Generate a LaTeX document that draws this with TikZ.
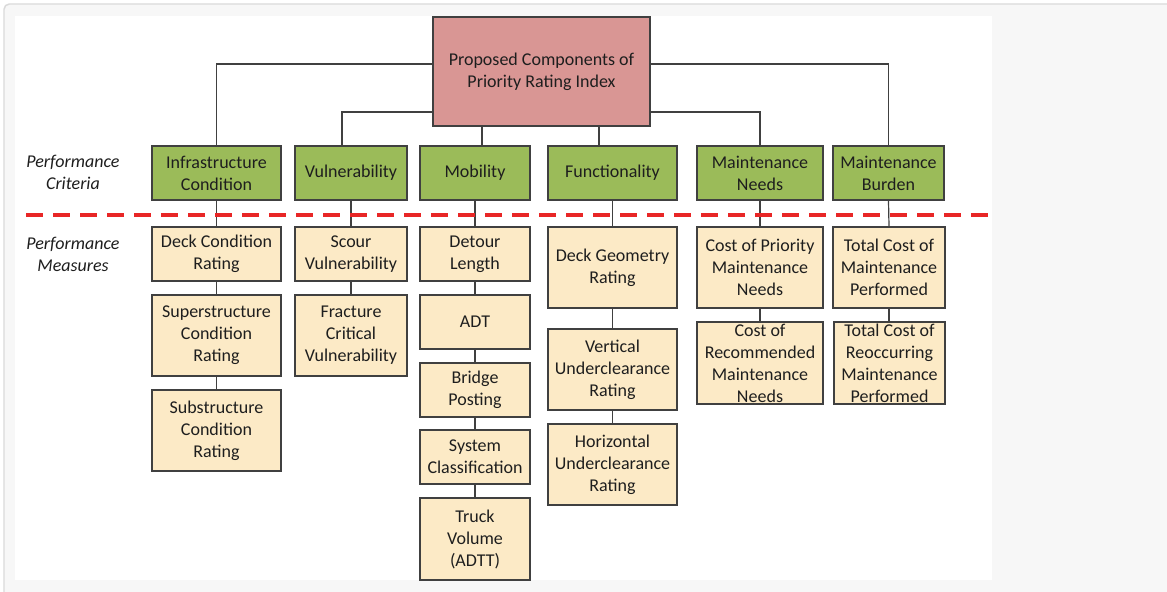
\documentclass[tikz,border=0pt]{standalone}
\usepackage{fontspec}
\setmainfont{Carlito}
\definecolor{pagegray}{HTML}{F7F7F7}
\definecolor{framegray}{HTML}{DADADA}
\definecolor{edgegray}{HTML}{404040}
\definecolor{inkgray}{HTML}{1E1E1E}
\definecolor{rootred}{HTML}{D99694}
\definecolor{critgreen}{HTML}{9BBB59}
\definecolor{meastan}{RGB}{252,234,198}
\definecolor{splitred}{RGB}{232,38,38}

% box placed by its corner pixels: name, style, x1, y1, x2, y2, text
\newcommand\boxnode[7]{%
  \node[#2, minimum width={(#5-#3)*0.75pt}, minimum height={(#6-#4)*0.75pt}]
    (#1) at ({(#3+#5)/2},{(#4+#6)/2}) {#7};}

\begin{document}
\begin{tikzpicture}[x=0.75pt,y=-0.75pt,
  basebox/.style={draw=edgegray, line width=1.1pt, inner sep=0pt, align=center,
    text=inkgray, font=\fontsize{13.5pt}{16.5pt}\selectfont},
  rootbox/.style={basebox, fill=rootred},
  critbox/.style={basebox, fill=critgreen},
  measbox/.style={basebox, fill=meastan},
  link/.style={draw=edgegray, line width=0.9pt},
  rowlabel/.style={align=center, text=inkgray, font=\fontsize{13.5pt}{16.5pt}\selectfont\itshape},
  splitline/.style={draw=splitred, line width=2.3pt, dash pattern=on 12.75pt off 7.5pt}]

% page background, frame and white panel
\useasboundingbox (0,0) rectangle (1167,592);
\fill[white] (0,0) rectangle (1167,592);
\filldraw[fill=pagegray, draw=framegray, line width=1.1pt, rounded corners=4pt]
  (4,4) rectangle (1190,610);
\fill[white] (15,16) rectangle (992,580);

% root
\boxnode{root}{rootbox}{433}{17}{650}{126}{Proposed Components of\\Priority Rating Index}

% performance criteria
\boxnode{infra}{critbox}{152}{146}{281}{200}{Infrastructure\\Condition}
\boxnode{vul}{critbox}{295}{146}{407}{200}{Vulnerability}
\boxnode{mob}{critbox}{420}{146}{530}{200}{Mobility}
\boxnode{func}{critbox}{548}{146}{677}{200}{Functionality}
\boxnode{mneed}{critbox}{697}{146}{823}{200}{Maintenance\\Needs}
\boxnode{mburd}{critbox}{833}{146}{944}{200}{Maintenance\\Burden}

% performance measures
\boxnode{ca}{measbox}{152}{227}{281}{281}{Deck Condition\\Rating}
\boxnode{cb}{measbox}{152}{295}{281}{376}{Superstructure\\Condition\\Rating}
\boxnode{cc}{measbox}{152}{390}{281}{471}{Substructure\\Condition\\Rating}
\boxnode{va}{measbox}{295}{227}{407}{281}{Scour\\Vulnerability}
\boxnode{vb}{measbox}{295}{295}{407}{376}{Fracture\\Critical\\Vulnerability}
\boxnode{ma}{measbox}{420}{227}{530}{281}{Detour\\Length}
\boxnode{mb}{measbox}{420}{295}{530}{349}{ADT}
\boxnode{mc}{measbox}{420}{363}{530}{417}{Bridge\\Posting}
\boxnode{md}{measbox}{420}{430}{530}{484}{System\\Classification}
\boxnode{me}{measbox}{420}{498}{530}{580}{Truck\\Volume\\(ADTT)}
\boxnode{fa}{measbox}{548}{227}{677}{308}{Deck Geometry\\Rating}
\boxnode{fb}{measbox}{548}{329}{677}{410}{Vertical\\Underclearance\\Rating}
\boxnode{fc}{measbox}{548}{424}{677}{505}{Horizontal\\Underclearance\\Rating}
\boxnode{na}{measbox}{697}{227}{823}{308}{Cost of Priority\\Maintenance\\Needs}
\boxnode{nb}{measbox}{697}{322}{823}{404}{Cost of\\Recommended\\Maintenance\\Needs}
\boxnode{ba}{measbox}{833}{227}{945}{308}{Total Cost of\\Maintenance\\Performed}
\boxnode{bb}{measbox}{834}{322}{945}{404}{Total Cost of\\Reoccurring\\Maintenance\\Performed}

% row labels
\node[rowlabel] (critlabel) at (73,172.5) {Performance\\Criteria};
\node[rowlabel] (measlabel) at (73,254) {Performance\\Measures};

% root to criteria
\draw[link] ([yshift=5.6pt]root.west) -| (infra.north);
\draw[link] ([yshift=-30.4pt]root.west) -| ([xshift=-6.75pt]vul.north);
\draw[link] ([yshift=5.6pt]root.east) -| (mburd.north);
\draw[link] ([yshift=-30.4pt]root.east) -| (mneed.north);
\coordinate (mobin) at ([xshift=5.25pt]mob.north);
\coordinate (funcin) at ([xshift=-10.1pt]func.north);
\draw[link] (mobin) -- (mobin |- root.south);
\draw[link] (funcin) -- (funcin |- root.south);

% criteria to measures, and down each column
\draw[link] (infra) -- (ca) -- (cb) -- (cc);
\draw[link] (vul) -- (va) -- (vb);
\draw[link] (mob) -- (ma) -- (mb) -- (mc) -- (md) -- (me);
\draw[link] (func) -- (fa) -- (fb) -- (fc);
\draw[link] (mneed) -- (na) -- (nb);
\draw[link] (mburd.south) -- (ba.north);
\draw[link] (ba.south) -- (ba.south |- bb.north);

% divider between criteria and measures
\coordinate (splitL) at (26,215);
\coordinate (splitR) at (990,215);
\draw[splitline] (splitL) -- (splitR);
\end{tikzpicture}
\end{document}
